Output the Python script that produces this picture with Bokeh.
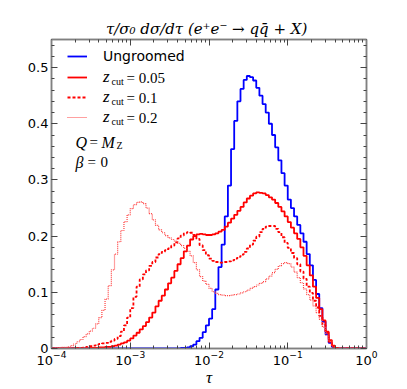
import numpy as np
from bokeh.plotting import figure
from bokeh.models import (Range1d, LinearAxis, LogAxis, SingleIntervalTicker, LogTicker,
                          Legend, LegendItem, Label)
from bokeh.embed import file_html
from bokeh.resources import INLINE

# histogram bins: 25 per decade, tau from 1e-4 to 1
n_bins = 100
edges = 10 ** np.linspace(-4, 0, n_bins + 1)

ungroomed = [0.0] * 41 + [
    0.001, 0.001, 0.002, 0.004, 0.007, 0.013, 0.019, 0.029, 0.041, 0.053,
    0.070, 0.105, 0.145, 0.185, 0.235, 0.290, 0.355, 0.405, 0.440, 0.462,
    0.478, 0.485, 0.483, 0.477, 0.464, 0.450, 0.435, 0.420, 0.400, 0.380,
    0.358, 0.335, 0.312, 0.290, 0.265, 0.250, 0.235, 0.220, 0.205, 0.190,
    0.168, 0.148, 0.122, 0.097, 0.072, 0.048, 0.025, 0.010, 0.003] + [0.0] * 10

zcut_005 = [0.0] * 12 + [
    0.001, 0.001, 0.001, 0.002, 0.002, 0.003, 0.003, 0.004, 0.005, 0.007,
    0.009, 0.011, 0.014, 0.018, 0.023, 0.028, 0.034, 0.040, 0.047, 0.055,
    0.064, 0.075, 0.085, 0.094, 0.105, 0.116, 0.126, 0.138, 0.150, 0.161,
    0.173, 0.183, 0.194, 0.200, 0.203, 0.204, 0.203, 0.202, 0.202, 0.203,
    0.205, 0.208, 0.211, 0.217, 0.224, 0.231, 0.238, 0.245, 0.252, 0.260,
    0.267, 0.272, 0.276, 0.278, 0.277, 0.276, 0.273, 0.269, 0.265, 0.259,
    0.252, 0.244, 0.235, 0.225, 0.215, 0.205, 0.195, 0.180, 0.165, 0.148,
    0.130, 0.110, 0.090, 0.070, 0.050, 0.030, 0.015, 0.005, 0.001] + [0.0] * 9

zcut_01 = [0.0] * 8 + [
    0.001, 0.001, 0.002, 0.003, 0.004, 0.005, 0.007, 0.008, 0.009, 0.010,
    0.012, 0.014, 0.017, 0.022, 0.030, 0.041, 0.055, 0.072, 0.092, 0.110,
    0.123, 0.132, 0.139, 0.147, 0.154, 0.162, 0.168, 0.172, 0.175, 0.178,
    0.183, 0.189, 0.196, 0.201, 0.205, 0.207, 0.206, 0.202, 0.195, 0.184,
    0.175, 0.166, 0.160, 0.156, 0.154, 0.153, 0.153, 0.154, 0.155, 0.157,
    0.160, 0.163, 0.167, 0.172, 0.178, 0.185, 0.192, 0.199, 0.207, 0.213,
    0.217, 0.218, 0.218, 0.213, 0.207, 0.198, 0.188, 0.179, 0.170, 0.161,
    0.150, 0.137, 0.124, 0.110, 0.099, 0.085, 0.073, 0.058, 0.042, 0.028,
    0.012, 0.003] + [0.0] * 10

zcut_02 = [
    0.0, 0.001, 0.001, 0.002, 0.002, 0.003, 0.005, 0.008, 0.012, 0.016,
    0.021, 0.026, 0.031, 0.036, 0.044, 0.055, 0.068, 0.088, 0.112, 0.140,
    0.168, 0.190, 0.210, 0.226, 0.238, 0.249, 0.256, 0.260, 0.261, 0.258,
    0.250, 0.240, 0.229, 0.219, 0.211, 0.206, 0.201, 0.197, 0.194, 0.191,
    0.187, 0.183, 0.178, 0.173, 0.165, 0.153, 0.140, 0.128, 0.120, 0.114,
    0.107, 0.101, 0.098, 0.096, 0.095, 0.094, 0.094, 0.095, 0.096, 0.097,
    0.099, 0.101, 0.104, 0.107, 0.110, 0.113, 0.116, 0.119, 0.124, 0.129,
    0.135, 0.141, 0.147, 0.151, 0.153, 0.151, 0.145, 0.136, 0.126, 0.117,
    0.106, 0.096, 0.086, 0.076, 0.064, 0.052, 0.038, 0.024, 0.013, 0.004] + [0.0] * 10

y_ticks_interval = 0.1

SPINE = "#808080"
TICK = "#444444"
SERIF = "Liberation Serif"
SANS = "DejaVu Sans"

p = figure(width=407, height=389, x_axis_type="log",
           x_range=Range1d(1e-4, 1.0), y_range=Range1d(0.0, 0.55),
           output_backend="svg", toolbar_location=None,
           min_border_left=51, min_border_right=41, min_border_top=39, min_border_bottom=40)
p.grid.visible = False
p.outline_line_color = SPINE
p.outline_line_width = 1.5
p.background_fill_color = "white"
p.border_fill_color = "white"

p.title.text = "τ/σ₀ dσ/dτ  (e⁺e⁻ → qq̄ + X)"
p.title.text_font = "DejaVu Serif"
p.title.text_font_style = "italic"
p.title.text_font_size = "15px"
p.title.text_color = "black"
p.title.align = "center"
p.title.standoff = 4
p.title.offset = -8

def style_axis(ax, show_labels):
    ax.axis_line_color = SPINE
    ax.axis_line_width = 1.5
    ax.major_tick_in = 6
    ax.major_tick_out = 0
    ax.minor_tick_in = 3
    ax.minor_tick_out = 0
    ax.major_tick_line_color = TICK
    ax.minor_tick_line_color = TICK
    ax.major_label_text_font = SANS
    ax.major_label_text_font_size = "13px" if show_labels else "1px"
    ax.major_label_text_color = "black" if show_labels else None
    ax.major_label_standoff = 3 if show_labels else 0

ly = p.yaxis[0]
ly.ticker = SingleIntervalTicker(interval=y_ticks_interval, num_minor_ticks=5)
style_axis(ly, True)
lx = p.xaxis[0]
lx.ticker = LogTicker(num_minor_ticks=10)
style_axis(lx, True)
lx.major_label_standoff = 2
lx.axis_label = "τ"
lx.axis_label_text_font = SERIF
lx.axis_label_text_font_style = "italic"
lx.axis_label_text_font_size = "17px"
lx.axis_label_text_color = "black"
lx.axis_label_standoff = 0

ry = LinearAxis(ticker=SingleIntervalTicker(interval=y_ticks_interval, num_minor_ticks=5))
style_axis(ry, False)
p.add_layout(ry, "right")
tx = LogAxis(ticker=LogTicker(num_minor_ticks=10))
style_axis(tx, False)
p.add_layout(tx, "above")

def step_y(vals):
    return list(vals) + [vals[-1]]

r_b = p.step(edges, step_y(ungroomed), mode="after", line_color="#0000ff", line_width=1.8)
r_1 = p.step(edges, step_y(zcut_005), mode="after", line_color="#ff0000", line_width=1.8)
r_2 = p.step(edges, step_y(zcut_01), mode="after", line_color="#ff0000", line_width=1.8,
             line_dash="3 2")
r_3 = p.step(edges, step_y(zcut_02), mode="after", line_color="#ff4040", line_width=1.2,
             line_dash="1 1")

common = dict(orientation="vertical", padding=0, margin=0, spacing=0,
              glyph_width=20, glyph_height=20, label_height=20, label_standoff=16,
              border_line_color=None, background_fill_alpha=0)
leg1 = Legend(items=[LegendItem(label="Ungroomed", renderers=[r_b])],
              location=(16, 282), label_text_font=SANS, label_text_font_size="14px",
              label_text_color="black", **common)
leg2 = Legend(items=[LegendItem(label="z", renderers=[r_1]),
                     LegendItem(label="z", renderers=[r_2]),
                     LegendItem(label="z", renderers=[r_3])],
              location=(16, 221), label_text_font=SERIF, label_text_font_style="italic",
              label_text_font_size="17px", label_text_color="black", **common)
p.add_layout(leg1)
p.add_layout(leg2)

def lab(text, x, y, size, style="normal", align="left", font=SERIF):
    p.add_layout(Label(text=text, x=x, y=y, x_units="screen", y_units="screen",
                       text_font=font, text_font_size=f"{size}px", text_font_style=style,
                       text_align=align, text_baseline="middle", text_color="black"))

zcut_labels = ["= 0.05", "= 0.1", "= 0.2"]
for i, t in enumerate(zcut_labels):
    yc = 270.7 - 20 * i
    lab("cut", 60, yc - 4, 10)
    lab(t, 75, yc, 15)

lab("Q", 24, 206.5, 16, style="italic")
lab("=", 38, 206.5, 15)
lab("M", 50, 206.5, 16, style="italic")
lab("Z", 65, 203, 10)
lab("β", 24, 186.5, 16, style="italic")
lab("=", 36, 186.5, 15)
lab("0", 49, 186.5, 15)

open("out.html", "w").write(file_html(p, INLINE))
